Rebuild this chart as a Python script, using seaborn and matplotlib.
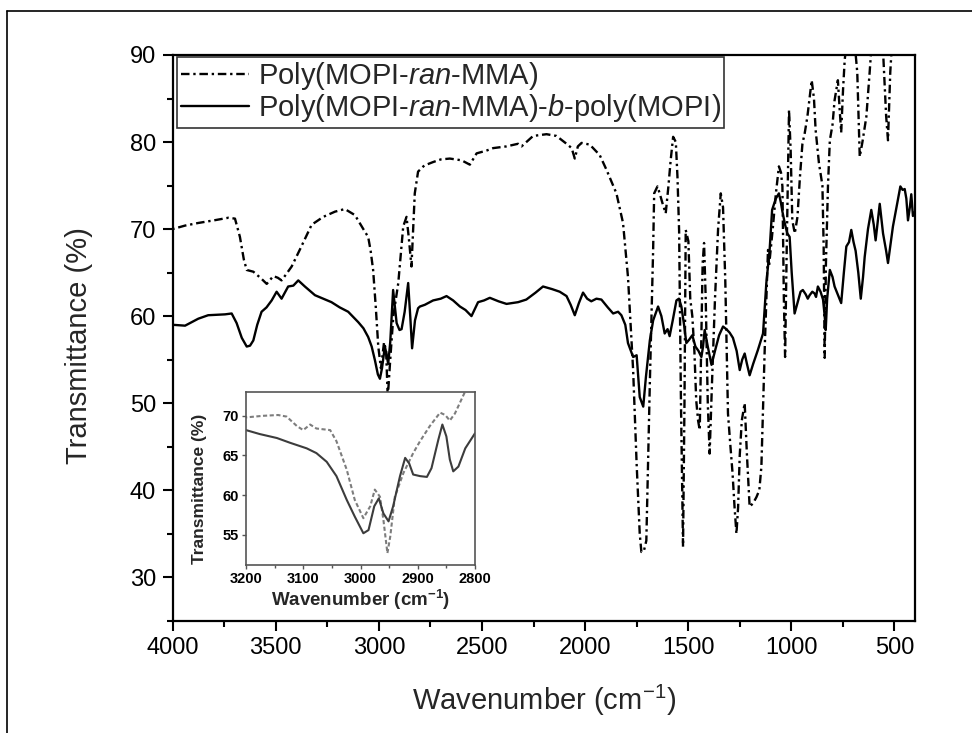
import numpy as np
import pandas as pd
import matplotlib
matplotlib.use("Agg")
import matplotlib.pyplot as plt
import seaborn as sns
from matplotlib.lines import Line2D
from matplotlib.ticker import MultipleLocator

# ---------------- data ----------------
ran_wn = [4000, 3940, 3876, 3800, 3730, 3698, 3674, 3655, 3641, 3609, 3570, 3544, 3512, 3490,
          3472, 3450, 3423, 3380, 3326, 3270, 3213, 3165, 3116, 3068, 3052, 3040, 3028, 3015,
          3003, 2990, 2975, 2965, 2957, 2945, 2930, 2906, 2882, 2866, 2855, 2842, 2834, 2826,
          2810, 2780, 2737, 2700, 2656, 2599, 2559, 2526, 2480, 2446, 2381, 2325, 2308, 2252,
          2187, 2139, 2090, 2065, 2050, 2035, 2017, 1977, 1929, 1896, 1848, 1816, 1792, 1767,
          1750, 1735, 1727, 1715, 1703, 1686, 1670, 1665, 1649, 1637, 1625, 1609, 1596, 1585,
          1573, 1560, 1552, 1544, 1535, 1525, 1518, 1512, 1499, 1490, 1480, 1470, 1461, 1452,
          1444, 1436, 1430, 1423, 1415, 1405, 1396, 1385, 1370, 1355, 1342, 1331, 1320, 1307,
          1295, 1285, 1275, 1266, 1258, 1250, 1240, 1226, 1215, 1202, 1185, 1169, 1155, 1145,
          1129, 1113, 1108, 1090, 1075, 1060, 1050, 1043, 1036, 1030, 1022, 1011, 1003, 995,
          983, 970, 958, 946, 935, 922, 901, 890, 882, 866, 849, 843, 838, 832, 822, 813, 800,
          790, 774, 766, 758, 749, 741, 725, 710, 695, 680, 668, 655, 636, 620, 605, 590, 575,
          560, 548, 540, 531, 520, 505, 490, 470, 450, 420, 400]
ran_T = [70.0, 70.4, 70.7, 71.0, 71.3, 71.2, 69.1, 66.5, 65.3, 65.1, 64.3, 63.7, 64.6, 64.4,
         64.1, 64.8, 65.7, 67.8, 70.5, 71.4, 72.0, 72.3, 71.6, 69.7, 69.1, 67.5, 65.3, 61.0,
         56.5, 54.0, 57.0, 56.0, 50.6, 55.0, 60.0, 63.8, 70.3, 71.4, 69.0, 65.7, 70.0, 74.1,
         76.6, 77.3, 77.7, 78.0, 78.1, 77.9, 77.4, 78.7, 79.0, 79.3, 79.5, 79.8, 79.5, 80.7,
         80.9, 80.7, 79.8, 79.3, 78.1, 79.5, 79.9, 79.7, 78.5, 76.8, 74.1, 70.7, 64.5, 53.8,
         43.0, 35.0, 32.9, 33.0, 34.2, 52.3, 67.6, 74.1, 74.9, 74.0, 73.0, 71.8, 74.9, 77.9,
         80.6, 80.0, 76.0, 69.8, 50.0, 33.5, 50.0, 69.9, 68.6, 62.0, 60.0, 56.0, 50.3, 48.0,
         46.9, 58.0, 66.0, 68.4, 62.0, 50.0, 44.2, 52.0, 62.0, 70.0, 74.1, 72.5, 64.0, 48.8,
         45.0, 42.0, 38.0, 35.0, 38.0, 44.0, 48.0, 50.0, 44.0, 38.1, 38.5, 39.2, 40.0, 42.7,
         56.1, 67.6, 65.7, 70.0, 74.0, 77.2, 76.5, 74.9, 62.0, 55.3, 68.0, 83.7, 79.0, 71.0,
         69.5, 71.4, 76.0, 79.8, 81.0, 82.9, 87.1, 85.0, 81.4, 77.6, 75.0, 68.0, 55.2, 66.0,
         75.0, 80.2, 82.0, 84.8, 87.1, 84.0, 81.1, 86.0, 89.4, 93.0, 95.0, 92.0, 88.0, 78.3,
         80.0, 82.9, 88.0, 93.0, 94.0, 91.0, 93.0, 87.0, 83.0, 80.2, 88.0, 94.0, 92.0, 91.0,
         95.0, 94.0, 93.0]

blk_wn = [4000, 3940, 3876, 3828, 3746, 3714, 3690, 3665, 3641, 3625, 3609, 3590, 3569, 3545,
          3520, 3496, 3472, 3440, 3415, 3391, 3359, 3310, 3270, 3230, 3190, 3149, 3100, 3075,
          3052, 3035, 3019, 3005, 2995, 2985, 2971, 2962, 2955, 2945, 2931, 2922, 2914, 2900,
          2890, 2875, 2858, 2848, 2839, 2825, 2810, 2801, 2777, 2737, 2700, 2672, 2640, 2607,
          2580, 2551, 2535, 2519, 2490, 2462, 2420, 2381, 2325, 2285, 2240, 2204, 2160, 2123,
          2090, 2070, 2050, 2030, 2010, 1990, 1970, 1945, 1921, 1890, 1864, 1840, 1824, 1805,
          1792, 1767, 1750, 1735, 1718, 1705, 1686, 1670, 1646, 1630, 1614, 1600, 1590, 1575,
          1557, 1545, 1533, 1520, 1509, 1495, 1480, 1465, 1450, 1436, 1428, 1420, 1405, 1387,
          1370, 1350, 1331, 1315, 1299, 1283, 1265, 1250, 1238, 1226, 1215, 1202, 1185, 1162,
          1137, 1121, 1105, 1093, 1075, 1060, 1050, 1043, 1030, 1019, 1008, 998, 984, 970, 955,
          944, 930, 920, 911, 898, 887, 880, 871, 858, 846, 838, 833, 826, 813, 800, 790, 775,
          758, 745, 733, 720, 709, 698, 688, 675, 663, 652, 644, 628, 612, 600, 591, 580, 571,
          555, 540, 531, 520, 507, 490, 471, 460, 450, 442, 434, 425, 418, 410, 400]
blk_T = [59.0, 58.9, 59.7, 60.1, 60.2, 60.3, 59.2, 57.5, 56.5, 56.6, 57.2, 59.0, 60.5, 61.0,
         61.8, 62.8, 62.0, 63.4, 63.5, 64.1, 63.4, 62.4, 62.0, 61.6, 61.0, 60.5, 59.3, 58.6,
         57.6, 56.5, 54.9, 53.3, 52.8, 54.0, 56.5, 55.5, 54.5, 57.0, 63.0, 61.0, 59.2, 58.4,
         58.5, 60.5, 63.8, 60.0, 56.3, 59.5, 60.9, 61.1, 61.3, 61.8, 62.0, 62.3, 61.8, 61.1,
         60.7, 60.0, 60.8, 61.6, 61.8, 62.1, 61.7, 61.4, 61.6, 61.9, 62.7, 63.4, 63.1, 62.8,
         62.3, 61.3, 60.1, 61.5, 62.7, 62.0, 61.7, 62.0, 61.9, 61.0, 60.3, 60.5, 60.1, 59.0,
         56.9, 55.3, 55.5, 50.7, 49.6, 53.0, 57.2, 59.5, 61.1, 60.0, 58.0, 58.5, 57.7, 59.5,
         61.8, 62.0, 61.1, 59.0, 56.9, 57.3, 57.8, 56.5, 56.0, 55.3, 56.5, 58.4, 56.5, 54.4,
         56.0, 57.8, 58.8, 58.5, 58.1, 57.5, 56.0, 53.8, 55.0, 55.7, 54.5, 53.2, 54.5, 56.1,
         58.0, 63.8, 67.6, 72.2, 73.5, 74.1, 73.0, 72.0, 70.5, 69.5, 69.1, 65.0, 60.3, 61.5,
         62.8, 63.0, 62.5, 62.0, 62.4, 62.8, 62.6, 62.2, 63.4, 62.8, 61.9, 60.0, 58.4, 62.0,
         65.3, 64.5, 63.4, 62.5, 61.5, 65.0, 68.0, 68.5, 69.9, 68.5, 67.5, 65.0, 62.0, 64.5,
         66.8, 70.0, 72.2, 70.5, 68.7, 71.0, 72.9, 69.5, 67.5, 66.1, 68.0, 70.3, 72.5, 74.9,
         74.5, 74.6, 73.5, 71.0, 72.5, 74.0, 71.5, 72.0]

# inset (3200-2800 cm-1)
in_ran_wn = [3200, 3170, 3144, 3129, 3111, 3100, 3088, 3077, 3053, 3042, 3024, 3010, 2995,
             2983, 2975, 2966, 2960, 2953, 2948, 2940, 2925, 2908, 2896, 2879, 2861, 2852,
             2844, 2835, 2817, 2810]
in_ran_T = [69.8, 70.0, 70.1, 69.9, 68.7, 68.2, 68.9, 68.4, 68.2, 66.8, 63.2, 59.4, 57.1,
            58.6, 60.7, 59.8, 56.9, 52.7, 54.8, 59.8, 62.8, 65.3, 66.8, 68.7, 70.4, 70.1,
            69.4, 70.3, 73.1, 74.5]
in_blk_wn = [3200, 3176, 3146, 3123, 3094, 3077, 3059, 3042, 3024, 3010, 2995, 2986, 2976,
             2968, 2960, 2951, 2943, 2931, 2922, 2915, 2908, 2896, 2884, 2876, 2864, 2857,
             2850, 2844, 2838, 2829, 2817, 2800]
in_blk_T = [68.2, 67.7, 67.2, 66.6, 65.9, 65.3, 64.2, 62.4, 59.4, 57.3, 55.2, 55.6, 58.6,
            59.6, 57.7, 56.7, 58.6, 62.4, 64.7, 64.0, 62.6, 62.4, 62.3, 63.4, 67.0, 68.9,
            67.4, 64.5, 63.0, 63.6, 65.9, 67.8]

label_ran = "Poly(MOPI-$\\mathit{ran}$-MMA)"
label_blk = "Poly(MOPI-$\\mathit{ran}$-MMA)-$\\mathit{b}$-poly(MOPI)"

# ---------------- style ----------------
sns.set_style("ticks")
plt.rcParams["font.family"] = ["Liberation Sans", "DejaVu Sans"]
plt.rcParams["mathtext.fontset"] = "custom"
plt.rcParams["mathtext.rm"] = "Liberation Sans"
plt.rcParams["mathtext.it"] = "Liberation Sans:italic"
plt.rcParams["mathtext.bf"] = "Liberation Sans:bold"
plt.rcParams["axes.edgecolor"] = "black"
plt.rcParams["xtick.color"] = "black"
plt.rcParams["ytick.color"] = "black"

fig = plt.figure(figsize=(9.72, 7.33), dpi=100)
fig.patch.set_facecolor("white")

# outer frame (left and top edges visible)
fig.add_artist(Line2D([7 / 972, 7 / 972], [0, 1 - 11 / 733], color="black", lw=1.2,
                      transform=fig.transFigure))
fig.add_artist(Line2D([7 / 972, 1], [1 - 11 / 733, 1 - 11 / 733], color="black", lw=1.2,
                      transform=fig.transFigure))

ax = fig.add_axes([172.7 / 972, 1 - 620.7 / 733, (915 - 172.7) / 972, (620.7 - 55) / 733])

df_ran = pd.DataFrame({"wn": ran_wn, "T": ran_T})
df_blk = pd.DataFrame({"wn": blk_wn, "T": blk_T})

sns.lineplot(data=df_ran, x="wn", y="T", ax=ax, color="black", lw=1.7,
             linestyle=(0, (3.6, 1.6, 1.0, 1.6)), label=label_ran, estimator=None)
sns.lineplot(data=df_blk, x="wn", y="T", ax=ax, color="black", lw=1.7,
             linestyle="-", label=label_blk, estimator=None)

ax.set_xlim(4000, 400)
ax.set_ylim(25, 90)
ax.xaxis.set_major_locator(MultipleLocator(500))
ax.xaxis.set_minor_locator(MultipleLocator(250))
ax.yaxis.set_minor_locator(MultipleLocator(5))
ax.set_yticks([30, 40, 50, 60, 70, 80, 90])
ax.tick_params(which="both", direction="out", width=1.5, top=False, right=False,
               labelsize=17, pad=5)
ax.tick_params(which="major", length=7)
ax.tick_params(which="minor", length=4)
for s in ax.spines.values():
    s.set_linewidth(1.6)
    s.set_color("black")

ax.set_xlabel("Wavenumber (cm$^{-1}$)", fontsize=21)
ax.set_ylabel("Transmittance (%)", fontsize=21)
ax.xaxis.set_label_coords(0.5, -0.11)
ax.yaxis.set_label_coords(-0.108, 0.487)

leg = ax.legend(loc="upper left", bbox_to_anchor=(0.0058, 0.9965), borderaxespad=0,
                fontsize=21, frameon=True, fancybox=False, framealpha=1,
                edgecolor="#333333", handlelength=2.35, handletextpad=0.3,
                labelspacing=0.0, borderpad=0.12)
leg.get_frame().set_linewidth(1.2)

# ---------------- inset ----------------
axi = fig.add_axes([246 / 972, 1 - 565 / 733, (475 - 246) / 972, (565 - 392) / 733])
df_in_ran = pd.DataFrame({"wn": in_ran_wn, "T": in_ran_T})
df_in_blk = pd.DataFrame({"wn": in_blk_wn, "T": in_blk_T})
sns.lineplot(data=df_in_ran, x="wn", y="T", ax=axi, color="#7d7d7d", lw=1.5,
             linestyle=(0, (2.0, 1.2)), estimator=None, legend=False)
sns.lineplot(data=df_in_blk, x="wn", y="T", ax=axi, color="#3c3c3c", lw=1.5,
             linestyle="-", estimator=None, legend=False)
axi.set_xlim(3200, 2800)
axi.set_ylim(51.2, 73)
axi.set_xticks([3200, 3100, 3000, 2900, 2800])
axi.xaxis.set_minor_locator(MultipleLocator(50))
axi.set_yticks([55, 60, 65, 70])
axi.tick_params(which="both", direction="out", width=1.0, top=False, right=False,
                labelsize=10.5, pad=2, color="#555555")
axi.tick_params(which="major", length=3)
axi.tick_params(which="minor", length=2)
for lab in axi.get_xticklabels() + axi.get_yticklabels():
    lab.set_fontweight("bold")
for s in axi.spines.values():
    s.set_linewidth(1.2)
    s.set_color("#555555")
axi.set_xlabel("Wavenumber (cm$^{\\mathbf{-1}}$)", fontsize=13.5, fontweight="bold")
axi.set_ylabel("Transmittance (%)", fontsize=12.5, fontweight="bold")
axi.xaxis.set_label_coords(0.5, -0.135)
axi.yaxis.set_label_coords(-0.17, 0.44)

fig.savefig("out.png", dpi=100, facecolor="white")
